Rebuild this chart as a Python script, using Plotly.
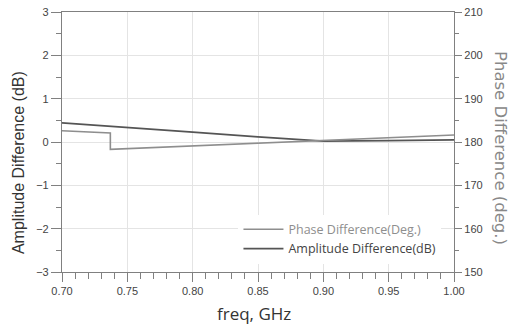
import plotly.graph_objects as go

# 데이터
freq_phase = [0.700, 0.737, 0.737, 0.800, 0.900, 1.000]
phase_deg = [182.6, 182.1, 178.3, 179.1, 180.4, 181.6]

freq_amp = [0.700, 0.750, 0.800, 0.850, 0.900, 0.950, 1.000]
amp_db = [0.44, 0.34, 0.23, 0.12, 0.02, 0.03, 0.05]

x_ticks = [0.70, 0.75, 0.80, 0.85, 0.90, 0.95, 1.00]
x_ticklabels = ["0.70", "0.75", "0.80", "0.85", "0.90", "0.95", "1.00"]

PHASE_COLOR = "#8e8e8e"
AMP_COLOR = "#555555"
AXIS_COLOR = "#808080"
GRID_COLOR = "#e4e4e4"

fig = go.Figure()
fig.add_trace(go.Scatter(
    x=freq_phase, y=phase_deg, yaxis="y2", mode="lines",
    name="Phase Difference(Deg.)",
    line=dict(color=PHASE_COLOR, width=1.6),
))
fig.add_trace(go.Scatter(
    x=freq_amp, y=amp_db, mode="lines",
    name="<span style='color:#444444'>Amplitude Difference(dB)</span>",
    line=dict(color=AMP_COLOR, width=1.8),
))

tick_font = dict(family="Liberation Sans, Arial", size=11, color="#444444")

fig.update_layout(
    width=511, height=331,
    margin=dict(l=62, r=57, t=12, b=59),
    plot_bgcolor="white", paper_bgcolor="white",
    showlegend=True,
    legend=dict(
        x=0.968, y=0.032, xanchor="right", yanchor="bottom",
        bgcolor="white", borderwidth=0,
        font=dict(family="Open Sans", size=12.5, color=PHASE_COLOR),
        itemwidth=40, tracegroupgap=0,
    ),
    xaxis=dict(
        range=[0.70, 1.00], tickvals=x_ticks, ticktext=x_ticklabels,
        ticks="outside", ticklen=9, tickcolor=AXIS_COLOR,
        minor=dict(dtick=0.01, ticks="outside", ticklen=6, tickcolor=AXIS_COLOR, showgrid=False),
        showline=True, linecolor=AXIS_COLOR, linewidth=1.2, mirror=True,
        showgrid=True, gridcolor=GRID_COLOR, zeroline=False,
        tickfont=tick_font, automargin=False,
    ),
    yaxis=dict(
        range=[-3, 3], dtick=1, ticks="outside", ticklen=10, tickcolor=AXIS_COLOR,
        minor=dict(dtick=0.5, ticks="outside", ticklen=5, tickcolor=AXIS_COLOR, showgrid=False),
        showline=True, linecolor=AXIS_COLOR, linewidth=1.2,
        showgrid=True, gridcolor=GRID_COLOR, zeroline=False,
        tickfont=tick_font, automargin=False, ticklabeloverflow="allow",
    ),
    yaxis2=dict(
        range=[150, 210], dtick=10, overlaying="y", side="right",
        ticks="outside", ticklen=7, tickcolor=AXIS_COLOR,
        minor=dict(dtick=5, ticks="outside", ticklen=4, tickcolor=AXIS_COLOR, showgrid=False),
        showline=True, linecolor=AXIS_COLOR, linewidth=1.2,
        showgrid=False, zeroline=False,
        tickfont=tick_font, automargin=False, ticklabeloverflow="allow",
    ),
)

# 축 제목 (annotation으로 위치 지정)
fig.add_annotation(
    text="freq, GHz", xref="paper", yref="paper", x=0.49, y=-0.158,
    xanchor="center", yanchor="middle", showarrow=False,
    font=dict(family="Open Sans", size=17, color="#333333"),
)
fig.add_annotation(
    text="Amplitude Difference (dB)", textangle=-90,
    xref="paper", yref="paper", x=0.0, y=0.419, xshift=-44,
    xanchor="center", yanchor="middle", showarrow=False,
    font=dict(family="Liberation Sans, Arial", size=16, color="#333333"),
)
fig.add_annotation(
    text="Phase Difference (deg.)", textangle=90,
    xref="paper", yref="paper", x=1.0, y=0.477, xshift=46,
    xanchor="center", yanchor="middle", showarrow=False,
    font=dict(family="DejaVu Sans", size=16.5, color="#888888"),
)

# body 기본 여백 제거, 모드바 숨김
fig.write_html(
    "out.html",
    config={"displayModeBar": False},
    post_script="document.body.style.margin='0';",
)
